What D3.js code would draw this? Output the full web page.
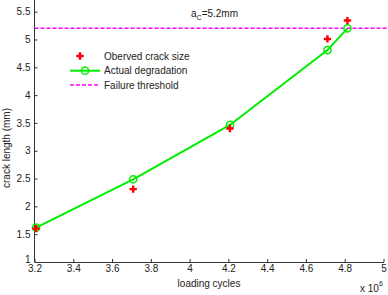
<!DOCTYPE html>
<html>
<head>
<meta charset="utf-8">
<script src="https://d3js.org/d3.v7.min.js"></script>
<style>
  html, body { margin: 0; padding: 0; background: #fff; }
  text { font-family: "Liberation Sans", Arial, sans-serif; fill: #222; }
</style>
</head>
<body>
<div id="chart"></div>
<script>
// observed crack sizes (red markers)
const obsCycles = [3.208, 3.709, 4.208, 4.711, 4.814];
const obsLength = [1.60, 2.31, 3.40, 5.01, 5.34];
// actual degradation (green line)
const actCycles = [3.208, 3.709, 4.208, 4.711, 4.814];
const actLength = [1.617, 2.487, 3.464, 4.81, 5.20];
const threshold = 5.2;
const xTicks = [3.2, 3.4, 3.6, 3.8, 4, 4.2, 4.4, 4.6, 4.8, 5];
const yTicks = [1, 1.5, 2, 2.5, 3, 3.5, 4, 4.5, 5, 5.5];
const legendLabels = ["Oberved crack size", "Actual degradation", "Failure threshold"];

const W = 388, H = 295;
const svg = d3.select("#chart").append("svg")
    .attr("width", W).attr("height", H);

const x = d3.scaleLinear().domain([3.2, 5]).range([34.5, 383.5]);
const y = d3.scaleLinear().domain([1, 5.71]).range([262, 0]);

// axes
const xAxis = svg.append("g")
    .attr("transform", `translate(0,${y(1)})`)
    .call(d3.axisBottom(x).tickValues(xTicks).tickFormat(d => d)
        .tickSize(-3).tickSizeOuter(0).tickPadding(3));
const yAxis = svg.append("g")
    .attr("transform", `translate(${x(3.2)},0)`)
    .call(d3.axisLeft(y).tickValues(yTicks).tickFormat(d => d)
        .tickSize(-3).tickSizeOuter(0).tickPadding(4));
[xAxis, yAxis].forEach(a => {
    a.select(".domain").attr("stroke", "#333");
    a.selectAll(".tick line").attr("stroke", "#333");
    a.selectAll(".tick text").style("font-size", "10px").attr("fill", "#222")
        .style("font-family", "'Liberation Sans', Arial, sans-serif");
});
yAxis.select(".domain").attr("d", `M0,${y(1)}V0`);
// lift the corner "1" label so it does not collide with "3.2"
yAxis.selectAll(".tick").filter(d => d === 1).select("text").attr("dy", "0.05em");

// threshold line
svg.append("line")
    .attr("x1", x(3.2)).attr("x2", W)
    .attr("y1", y(threshold)).attr("y2", y(threshold))
    .attr("stroke", "#ff00ff").attr("stroke-width", 1.5)
    .attr("stroke-dasharray", "4,2");

// annotation
const ann = svg.append("text").attr("x", 191).attr("y", 17).style("font-size", "10px");
ann.append("tspan").text("a");
ann.append("tspan").attr("dy", 3).style("font-size", "7px").text("C");
ann.append("tspan").attr("dy", -3).text("=5.2mm");

// green line
const pts = actCycles.map((c, i) => [c, actLength[i]]);
svg.append("path")
    .datum(pts)
    .attr("fill", "none").attr("stroke", "#00ee00").attr("stroke-width", 2)
    .attr("d", d3.line().x(d => x(d[0])).y(d => y(d[1])));
svg.selectAll("circle.act").data(pts).enter().append("circle")
    .attr("class", "act")
    .attr("cx", d => x(d[0])).attr("cy", d => y(d[1])).attr("r", 3.6)
    .attr("fill", "none").attr("stroke", "#00ee00").attr("stroke-width", 1.5);

// red markers
const cross = d3.symbol(d3.symbolCross, 30);
svg.selectAll("path.obs").data(obsCycles).enter().append("path")
    .attr("class", "obs")
    .attr("transform", (d, i) => `translate(${x(d)},${y(obsLength[i])})`)
    .attr("d", cross).attr("fill", "#ff0000");

// labels
svg.append("text").attr("x", 209).attr("y", 287).attr("text-anchor", "middle")
    .style("font-size", "10px").text("loading cycles");
svg.append("text").attr("transform", "translate(10,148) rotate(-90)")
    .attr("text-anchor", "middle").style("font-size", "10px").text("crack length (mm)");
const ex = svg.append("text").attr("x", 360).attr("y", 292).style("font-size", "10px");
ex.append("tspan").text("x 10");
ex.append("tspan").attr("dy", -6).style("font-size", "7px").text("6");

// legend
const lg = svg.append("g");
const rowY = [56, 70.7, 85];
lg.append("path").attr("transform", `translate(80,${rowY[0]})`).attr("d", cross).attr("fill", "#ff0000");
lg.append("line").attr("x1", 70).attr("x2", 100).attr("y1", rowY[1]).attr("y2", rowY[1])
    .attr("stroke", "#00ee00").attr("stroke-width", 2);
lg.append("circle").attr("cx", 85).attr("cy", rowY[1]).attr("r", 3.6)
    .attr("fill", "none").attr("stroke", "#00ee00").attr("stroke-width", 1.5);
lg.append("line").attr("x1", 70).attr("x2", 100).attr("y1", rowY[2]).attr("y2", rowY[2])
    .attr("stroke", "#ff00ff").attr("stroke-width", 1.5).attr("stroke-dasharray", "4,2");
legendLabels.forEach((t, i) => {
    lg.append("text").attr("x", 104).attr("y", rowY[i] + 3.5)
        .style("font-size", "10px").text(t);
});
</script>
</body>
</html>
